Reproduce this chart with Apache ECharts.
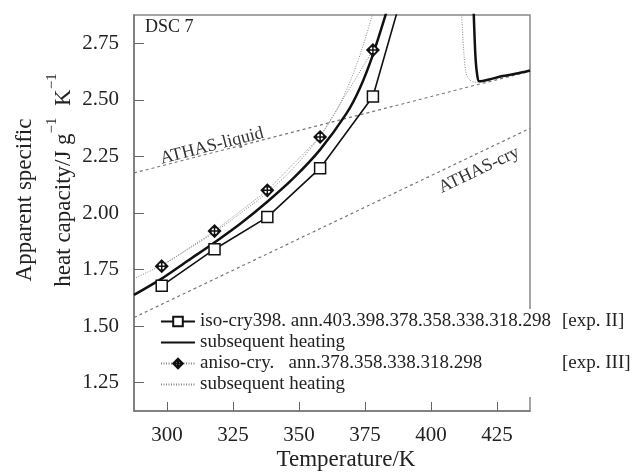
<!DOCTYPE html>
<html>
<head>
<meta charset="utf-8">
<script src="https://cdn.jsdelivr.net/npm/echarts@6/dist/echarts.min.js"></script>
<style>
  html, body { margin: 0; padding: 0; background: #fff; }
  #chart { width: 633px; height: 475px; }
</style>
</head>
<body>
<div id="chart"></div>
<script>
// 轴刻度
const xTicks = [300, 325, 350, 375, 400, 425];
const yTicks = [1.25, 1.5, 1.75, 2.0, 2.25, 2.5, 2.75];

// exp. II 等温结晶 (方块)
const isoT = [298, 318, 338, 358, 378, 398];
const isoCp = [1.678, 1.84, 1.982, 2.198, 2.515, 3.33];

// exp. II 后续加热 (粗实线), null 断开
const heatIIT = [287.5, 298, 308, 318, 328, 338, 348, 358, 368, 373, 378, 385, 415.5, 416, 416.8, 417.5, 418.3, 422, 427, 432, 437.5];
const heatIICp = [1.638, 1.71, 1.79, 1.87, 1.955, 2.05, 2.155, 2.28, 2.44, 2.55, 2.70, 2.96, null, 2.95, 2.70, 2.61, 2.582, 2.59, 2.605, 2.615, 2.63];

// exp. III 各向异性结晶 (菱形)
const anisoT = [298, 318, 338, 358, 378];
const anisoCp = [1.765, 1.92, 2.10, 2.336, 2.72];

// exp. III 后续加热 (细点线)
const heatIIIT = [287.5, 298, 308, 318, 328, 338, 348, 358, 365, 370, 374, 377.7, 379, 411, 411.5, 412.5, 413.3, 414.5, 416.5, 418.5, 437.5];
const heatIIICp = [1.71, 1.77, 1.84, 1.915, 2.0, 2.09, 2.2, 2.34, 2.47, 2.6, 2.73, 2.875, 2.95, null, 2.9, 2.7, 2.62, 2.59, 2.578, 2.58, 2.628];

// ATHAS 基线
const liquidT = [287.5, 437.5];
const liquidCp = [2.177, 2.627];
const cryT = [287.5, 437.5];
const cryCp = [1.538, 2.374];

const pairs = (xs, ys) => xs.map((x, i) => [x, ys[i] === null ? '-' : ys[i]]);

const serif = 'Liberation Serif';
const diamond = 'path://M0,-7L7,0L0,7L-7,0Z M4.5,0A4.5,4.5,0,1,1,-4.5,0A4.5,4.5,0,1,1,4.5,0Z M0,-7L0,7 M-7,0L7,0';

const chart = echarts.init(document.getElementById('chart'));
chart.setOption({
  animation: false,
  backgroundColor: '#fff',
  textStyle: { fontFamily: serif },
  grid: {
    left: 134, top: 15, right: 103, bottom: 64,
    show: true, borderColor: '#888', borderWidth: 1.5
  },
  xAxis: {
    type: 'value', min: 287.5, max: 437.5,
    splitLine: { show: false },
    axisLine: { lineStyle: { color: '#777', width: 1.5 } },
    axisTick: { inside: true, length: 9, customValues: xTicks, lineStyle: { color: '#666' } },
    axisLabel: { customValues: xTicks, fontSize: 21, color: '#222', margin: 14, fontFamily: serif }
  },
  yAxis: {
    type: 'value', min: 1.125, max: 2.875,
    splitLine: { show: false },
    axisLine: { lineStyle: { color: '#777', width: 1.5 } },
    axisTick: { inside: true, length: 10, customValues: yTicks, lineStyle: { color: '#666' } },
    axisLabel: {
      customValues: yTicks, fontSize: 21, color: '#222', margin: 15, fontFamily: serif,
      formatter: v => v.toFixed(2)
    }
  },
  legend: {
    orient: 'vertical', left: 156, top: 309,
    backgroundColor: '#fff', padding: [3, 4, 3, 4],
    itemWidth: 34, itemHeight: 12, itemGap: 2,
    textStyle: {
      fontSize: 19, color: '#222', fontFamily: serif,
      rich: {
        a: { fontSize: 19, fontFamily: serif, color: '#222', width: 362 },
        b: { fontSize: 19, fontFamily: serif, color: '#222' }
      }
    },
    // 后续加热只画线, 不画符号
    data: [
      'iso',
      { name: 'heatII', itemStyle: { opacity: 0 } },
      'aniso',
      { name: 'heatIII', itemStyle: { opacity: 0 } }
    ],
    formatter: name => {
      if (name === 'iso') return '{a|iso-cry398. ann.403.398.378.358.338.318.298}{b|[exp. II]}';
      if (name === 'aniso') return '{a|aniso-cry.   ann.378.358.338.318.298}{b|[exp. III]}';
      return 'subsequent heating';
    }
  },
  graphic: [
    { type: 'text', left: 145, top: 18, style: { text: 'DSC 7', font: '18px "Liberation Serif"', fill: '#222' } },
    {
      type: 'text', x: 212, y: 146, rotation: 0.25,
      style: { text: 'ATHAS-liquid', font: '18px "Liberation Serif"', fill: '#333', align: 'center', verticalAlign: 'middle' }
    },
    {
      type: 'text', x: 479, y: 170, rotation: 0.445,
      style: { text: 'ATHAS-cry', font: '18px "Liberation Serif"', fill: '#333', align: 'center', verticalAlign: 'middle' }
    },
    {
      type: 'text', x: 346, y: 460,
      style: { text: 'Temperature/K', font: '23px "Liberation Serif"', fill: '#222', align: 'center', verticalAlign: 'middle' }
    },
    {
      type: 'text', x: 25, y: 200, rotation: Math.PI / 2,
      style: { text: 'Apparent specific', font: '23px "Liberation Serif"', fill: '#222', align: 'center', verticalAlign: 'middle' }
    },
    {
      type: 'text', x: 60, y: 180, rotation: Math.PI / 2,
      style: {
        text: '{m|heat capacity/J g}{s|−1}{m|  K}{s|−1}',
        align: 'center', verticalAlign: 'middle',
        rich: {
          m: { fontSize: 23, fontFamily: serif, fill: '#222', lineHeight: 30, verticalAlign: 'bottom' },
          s: { fontSize: 15, fontFamily: serif, fill: '#222', lineHeight: 30, verticalAlign: 'top' }
        }
      }
    }
  ],
  series: [
    {
      name: 'ATHAS-liquid', type: 'line', data: pairs(liquidT, liquidCp),
      symbol: 'none', lineStyle: { color: '#777', width: 1.2, type: [3, 3] }, z: 1
    },
    {
      name: 'ATHAS-cry', type: 'line', data: pairs(cryT, cryCp),
      symbol: 'none', lineStyle: { color: '#777', width: 1.2, type: [3, 3] }, z: 1
    },
    {
      name: 'heatIII', type: 'line', data: pairs(heatIIIT, heatIIICp), smooth: 0.3,
      symbol: 'none', connectNulls: false,
      lineStyle: { color: '#888', width: 1, type: [1, 1.5] }, itemStyle: { color: '#888' }
    },
    {
      name: 'aniso', type: 'line', data: pairs(anisoT, anisoCp),
      symbol: diamond, symbolSize: 12,
      lineStyle: { color: '#888', width: 1, type: [1, 1.5] },
      itemStyle: { color: '#fff', borderColor: '#111', borderWidth: 1.5 }
    },
    {
      name: 'heatII', type: 'line', data: pairs(heatIIT, heatIICp), smooth: 0.3,
      symbol: 'none', connectNulls: false,
      lineStyle: { color: '#111', width: 2.5 }, itemStyle: { color: '#111' }
    },
    {
      name: 'iso', type: 'line', data: pairs(isoT, isoCp),
      symbol: 'rect', symbolSize: 11,
      lineStyle: { color: '#111', width: 1.6 },
      itemStyle: { color: '#fff', borderColor: '#111', borderWidth: 1.5 }
    }
  ]
});
</script>
</body>
</html>
